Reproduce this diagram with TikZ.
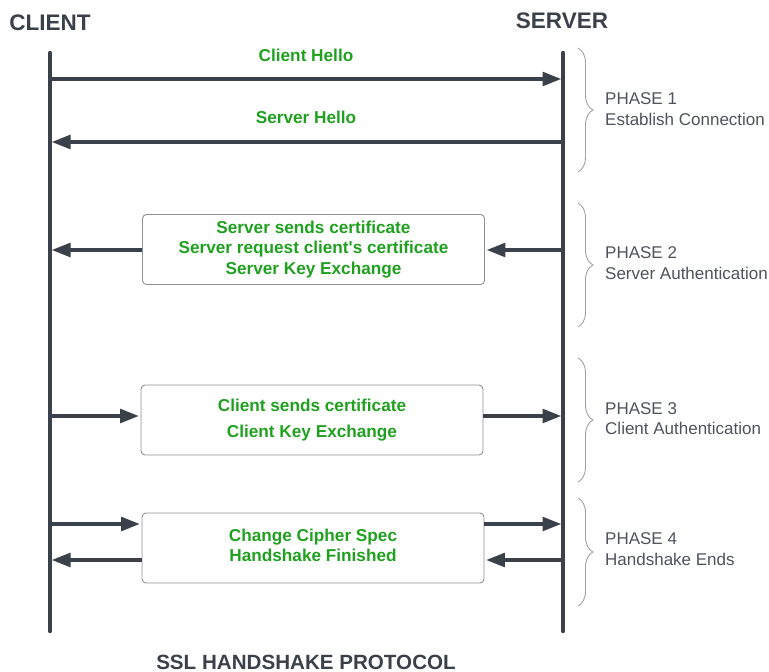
\documentclass[tikz,border=0pt]{standalone}
\usepackage{fontspec}
\setmainfont[Ligatures=TeXOff]{Liberation Sans}
\usetikzlibrary{arrows.meta,decorations.pathreplacing}

\definecolor{linegray}{HTML}{3B414B}
\definecolor{msggreen}{HTML}{1FA11F}
\definecolor{phasegray}{HTML}{4E535C}
\definecolor{boxgray}{HTML}{8E9196}
\definecolor{bracegray}{HTML}{A0A2A6}

\tikzset{
  actor/.style     = {font=\fontsize{22.5}{26}\selectfont\bfseries, text=linegray},
  lifeline/.style  = {draw=linegray, line width=4.5pt, line cap=round},
  msg/.style       = {draw=linegray, line width=4pt, shorten >=1.5pt,
                      -{Triangle[length=19pt,width=13.5pt]}},
  msgtext/.style   = {font=\fontsize{17.2}{20.5}\selectfont\bfseries,
                      text=msggreen, align=center},
  msgbox/.style    = {msgtext, draw=boxgray, line width=0.9pt, rounded corners=4pt,
                      minimum width=342pt, minimum height=70pt, inner sep=0pt},
  phase/.style     = {font=\fontsize{17}{20.5}\selectfont, text=phasegray,
                      align=left, anchor=west, inner sep=0pt},
  phasebrace/.style= {draw=bracegray, line width=0.9pt, decorate,
                      decoration={brace, amplitude=15pt}}
}

\begin{document}
\begin{tikzpicture}
[
    x=1pt, y=-1pt
  ]
\useasboundingbox (0,0) rectangle (769,672);

\node[actor] (client) at (50,23) {CLIENT};
\node[actor] (server) at (562,21) {SERVER};

% lifelines
\coordinate (ctop) at (50,53);
\coordinate (cbot) at (50,631);
\coordinate (stop) at (563,53);
\coordinate (sbot) at (563,631);
\draw[lifeline] (ctop) -- (cbot);
\draw[lifeline] (stop) -- (sbot);

% phase 1
\node[msgtext] (chello) at (306,55) {Client Hello};
\coordinate (m1) at (50,79);
\draw[msg] (m1) -- (m1 -| stop);
\node[msgtext] (shello) at (306,117) {Server Hello};
\coordinate (m2) at (563,142);
\draw[msg] (m2) -- (m2 -| ctop);

% phase 2
\node[msgbox] (srvauth) at (313.5,249.5)
  {Server sends certificate\\Server request client's certificate\\Server Key Exchange};
\coordinate (m3) at (563,250);
\draw[msg] (m3) -- (m3 -| srvauth.east);
\draw[msg] (m3 -| srvauth.west) -- (m3 -| ctop);

% phase 3
\node[msgbox] (cliauth) at (312,420)
  {Client sends certificate\\[6pt]Client Key Exchange};
\coordinate (m4) at (50,416);
\draw[msg] (m4) -- (m4 -| cliauth.west);
\draw[msg] (m4 -| cliauth.east) -- (m4 -| stop);

% phase 4
\node[msgbox] (finish) at (313,548) {};
\node[msgtext] (finishtxt) at (313,545.5) {Change Cipher Spec\\Handshake Finished};
\coordinate (m5) at (50,524);
\coordinate (m6) at (563,560);
\draw[msg] (m5) -- (m5 -| finish.west);
\draw[msg] (m5 -| finish.east) -- (m5 -| stop);
\draw[msg] (m6) -- (m6 -| finish.east);
\draw[msg] (m6 -| finish.west) -- (m6 -| ctop);

% phases
\draw[phasebrace] (578,48) -- (578,172);
\draw[phasebrace] (578,203) -- (578,327);
\draw[phasebrace] (578,358) -- (578,482);
\draw[phasebrace] (578,498) -- (578,606);
\node[phase] (ph1) at (605,109) {PHASE 1\\Establish Connection};
\node[phase] (ph2) at (605,263) {PHASE 2\\Server Authentication};
\node[phase] (ph3) at (605,418.5) {PHASE 3\\Client Authentication};
\node[phase] (ph4) at (605,549) {PHASE 4\\Handshake Ends};

\node[actor, font=\fontsize{20.6}{24}\selectfont\bfseries] (title) at (306,662)
  {SSL HANDSHAKE PROTOCOL};
\end{tikzpicture}
\end{document}
